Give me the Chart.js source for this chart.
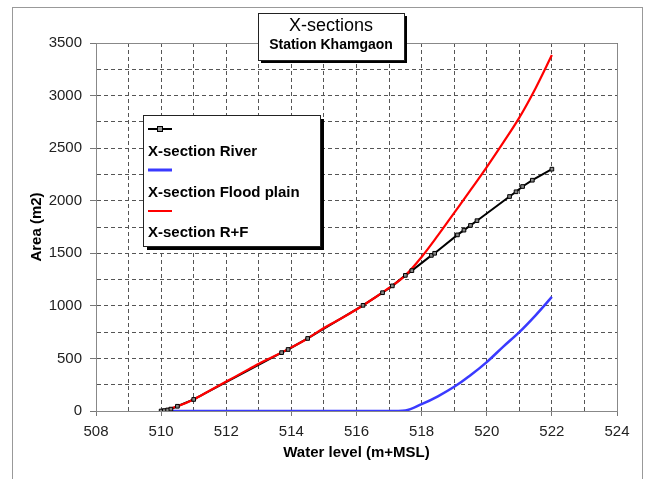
<!DOCTYPE html>
<html>
<head>
<meta charset="utf-8">
<script src="https://cdn.jsdelivr.net/npm/chart.js@4.4.1/dist/chart.umd.min.js"></script>
<style>
  html, body { margin: 0; padding: 0; background: #fff; }
</style>
</head>
<body>
<canvas id="chart" width="657" height="479"></canvas>
<script>
// river section (black, with markers)
const riverLevel = [510.0, 510.1, 510.2, 510.3, 510.5, 511.0, 513.7, 513.9, 514.5, 516.2, 516.8, 517.1, 517.5,
  517.7, 518.3, 518.4, 519.1, 519.3, 519.5, 519.7, 520.7, 520.9, 521.1, 521.4, 522.0]
const riverArea = [0, 4, 10, 18, 45, 110, 555, 585, 690, 1005, 1125, 1190, 1290,
  1335, 1480, 1500, 1675, 1720, 1765, 1810, 2040, 2085, 2135, 2195, 2300]

// flood plain (blue)
const floodLevel = [510.0, 517.0, 517.5, 518.0, 518.5, 519.0, 519.5, 520.0, 520.5, 521.0, 521.5, 522.0]
const floodArea = [0, 0, 5, 65, 140, 230, 340, 465, 610, 750, 910, 1085]

// river + flood plain (red)
const totalLevel = [510.0, 510.5, 511.0, 511.5, 512.0, 512.5, 513.0, 513.5, 514.0, 514.5, 515.0, 515.5, 516.0,
  516.5, 517.0, 517.5, 518.0, 518.5, 519.0, 519.5, 520.0, 520.5, 521.0, 521.5, 522.0]
const totalArea = [0, 45, 110, 195, 280, 365, 450, 525, 605, 690, 790, 875, 965,
  1065, 1170, 1290, 1465, 1670, 1885, 2100, 2320, 2550, 2790, 3070, 3385]

const seriesNames = ["X-section River", "X-section Flood plain", "X-section R+F"]
const seriesColors = ["#000000", "#3a3aff", "#ff0000"]
const chartTitle = "X-sections"
const chartSubtitle = "Station Khamgaon"

const xMin = 508, xMax = 524, xMajor = 2
const yMin = 0, yMax = 3500, yMajor = 500

const FONT = "'Liberation Sans', Arial, sans-serif"

function toPoints(xs, ys) {
  return xs.map((x, i) => ({x: x, y: ys[i]}))
}

function drawBox(ctx, x, y, w, h, sh) {
  ctx.fillStyle = "#000"
  ctx.fillRect(x + sh, y + sh, w, h)
  ctx.fillStyle = "#fff"
  ctx.fillRect(x, y, w, h)
  ctx.strokeStyle = "#222"
  ctx.lineWidth = 1
  ctx.strokeRect(x + 0.5, y + 0.5, w, h)
}

const decor = {
  id: "decor",
  beforeDraw(chart) {
    const ctx = chart.ctx
    ctx.save()
    ctx.fillStyle = "#fff"
    ctx.fillRect(0, 0, chart.width, chart.height)
    ctx.strokeStyle = "#999"
    ctx.lineWidth = 1
    ctx.strokeRect(12.5, 7.5, 630, 490)
    ctx.restore()
  },
  afterDraw(chart) {
    const ctx = chart.ctx
    const a = chart.chartArea
    ctx.save()
    // top and right edge of the plot frame
    ctx.strokeStyle = "#888"
    ctx.lineWidth = 1
    ctx.beginPath()
    ctx.moveTo(a.left, a.top + 0.5)
    ctx.lineTo(a.right + 0.5, a.top + 0.5)
    ctx.lineTo(a.right + 0.5, a.bottom)
    ctx.stroke()

    // title box
    drawBox(ctx, 258, 13, 146, 47, 3)
    ctx.fillStyle = "#000"
    ctx.textAlign = "center"
    ctx.textBaseline = "middle"
    ctx.font = "18px " + FONT
    ctx.fillText(chartTitle, 331, 26)
    ctx.font = "bold 14px " + FONT
    ctx.fillText(chartSubtitle, 331, 45)

    // legend box (Excel style: sample line above each name)
    drawBox(ctx, 143, 115, 177, 131, 4)
    const lx = 148
    const rows = [129, 170, 211]
    const labelRows = [152, 193, 233]
    ctx.textAlign = "left"
    ctx.font = "bold 15px " + FONT
    for (let i = 0; i < seriesNames.length; i++) {
      ctx.strokeStyle = seriesColors[i]
      ctx.lineWidth = i === 1 ? 3 : 2
      ctx.beginPath()
      ctx.moveTo(lx, rows[i])
      ctx.lineTo(lx + 24, rows[i])
      ctx.stroke()
      if (i === 0) {
        ctx.fillStyle = "#999"
        ctx.fillRect(lx + 9.5, rows[i] - 2.5, 5, 5)
        ctx.strokeStyle = "#000"
        ctx.lineWidth = 1
        ctx.strokeRect(lx + 9.5, rows[i] - 2.5, 5, 5)
      }
      ctx.fillStyle = "#000"
      ctx.fillText(seriesNames[i], lx, labelRows[i])
    }
    ctx.restore()
  },
}

const tickFont = {family: FONT, size: 15}
const titleFont = {family: FONT, size: 15, weight: "bold"}

new Chart(document.getElementById("chart"), {
  type: "scatter",
  data: {
    datasets: [
      {
        label: seriesNames[0] + " markers",
        data: toPoints(riverLevel, riverArea),
        showLine: false,
        pointStyle: "rect",
        pointRadius: 2.6,
        pointBackgroundColor: "#888",
        pointBorderColor: "#000",
        pointBorderWidth: 1,
        order: 0,
      },
      {
        label: seriesNames[2],
        data: toPoints(totalLevel, totalArea),
        showLine: true,
        borderColor: seriesColors[2],
        borderWidth: 2.2,
        pointRadius: 0,
        cubicInterpolationMode: "monotone",
        order: 1,
      },
      {
        label: seriesNames[0],
        data: toPoints(riverLevel, riverArea),
        showLine: true,
        borderColor: seriesColors[0],
        borderWidth: 2,
        pointRadius: 0,
        order: 2,
      },
      {
        label: seriesNames[1],
        data: toPoints(floodLevel, floodArea),
        showLine: true,
        borderColor: seriesColors[1],
        borderWidth: 2.5,
        pointRadius: 0,
        cubicInterpolationMode: "monotone",
        order: 3,
      },
    ],
  },
  options: {
    responsive: false,
    animation: false,
    layout: {padding: {left: 0, right: 40, top: 43, bottom: 0}},
    plugins: {
      legend: {display: false},
      tooltip: {enabled: false},
    },
    scales: {
      x: {
        type: "linear",
        min: xMin,
        max: xMax,
        afterFit: (s) => { s.height = 68 },
        ticks: {
          stepSize: 1,
          autoSkip: false,
          maxRotation: 0,
          padding: 7,
          color: "#222",
          font: tickFont,
          callback: (v) => (v % xMajor === 0 ? v : ""),
        },
        grid: {
          color: "#555",
          lineWidth: 1,
          tickLength: 5,
          tickColor: (c) => (c.tick && c.tick.value % xMajor === 0 ? "#777" : "rgba(0,0,0,0)"),
        },
        border: {display: true, color: "#888", width: 1, dash: [4, 3]},
        title: {
          display: true,
          text: "Water level (m+MSL)",
          color: "#000",
          font: titleFont,
          padding: {top: 0, bottom: 17},
        },
      },
      y: {
        type: "linear",
        min: yMin,
        max: yMax,
        afterFit: (s) => { s.width = 96 },
        ticks: {
          stepSize: 250,
          autoSkip: false,
          padding: 8,
          color: "#222",
          font: tickFont,
          callback: (v) => (v % yMajor === 0 ? v : ""),
        },
        grid: {
          color: "#555",
          lineWidth: 1,
          tickLength: 6,
          tickColor: (c) => (c.tick && c.tick.value % yMajor === 0 ? "#777" : "rgba(0,0,0,0)"),
        },
        border: {display: true, color: "#888", width: 1, dash: [4, 3]},
        title: {
          display: true,
          text: "Area (m2)",
          color: "#000",
          font: titleFont,
          padding: {top: 28, bottom: 0},
        },
      },
    },
  },
  plugins: [decor],
})
</script>
</body>
</html>
